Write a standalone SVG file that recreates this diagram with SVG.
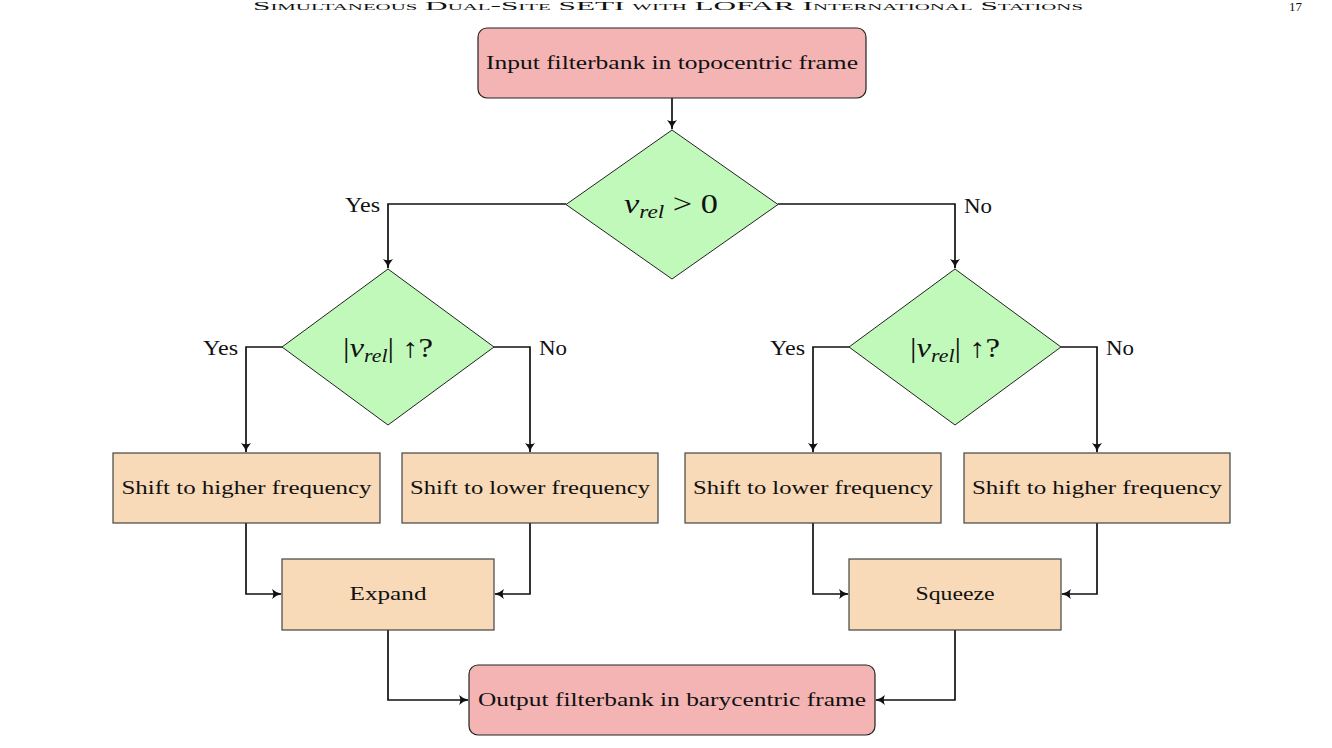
<svg xmlns="http://www.w3.org/2000/svg" width="1332" height="748" viewBox="0 0 1332 748">
<style>
text{font-family:"Liberation Serif","DejaVu Serif",serif;fill:#111}
.lbl{font-size:19px;text-anchor:middle}
.yn{font-size:20px}
.term{fill:#f4b4b4;stroke:#222;stroke-width:1.2}
.dec{fill:#c1f9bb;stroke:#222;stroke-width:1}
.proc{fill:#f8dab8;stroke:#444;stroke-width:1.2}
.math{font-style:italic}
.conn path{fill:none;stroke:#111;stroke-width:1.7}
</style>
<defs>
<marker id="arr" markerWidth="12" markerHeight="12" refX="9" refY="5" orient="auto" markerUnits="userSpaceOnUse">
<path d="M0,0 Q4,3.8 10,5 Q4,6.2 0,10 Q2.5,5 0,0 z" fill="#111"/>
</marker>
</defs>
<g id="header">
<text x="668" y="10" font-size="12" text-anchor="middle" font-variant="small-caps" textLength="830" lengthAdjust="spacingAndGlyphs">Simultaneous Dual-Site SETI with LOFAR International Stations</text>
<text x="1302" y="11" font-size="13" text-anchor="end">17</text>
</g>
<g class="conn">
<path d="M672,98 V129" marker-end="url(#arr)"/>
<path d="M566,204 H388 V268" marker-end="url(#arr)"/>
<path d="M778,204 H955 V268" marker-end="url(#arr)"/>
<path d="M282,347 H246 V452" marker-end="url(#arr)"/>
<path d="M494,347 H530 V452" marker-end="url(#arr)"/>
<path d="M849,347 H813 V452" marker-end="url(#arr)"/>
<path d="M1061,347 H1097 V452" marker-end="url(#arr)"/>
<path d="M246,523 V594 H281" marker-end="url(#arr)"/>
<path d="M530,523 V594 H495" marker-end="url(#arr)"/>
<path d="M813,523 V594 H848" marker-end="url(#arr)"/>
<path d="M1097,523 V594 H1062" marker-end="url(#arr)"/>
<path d="M388,630 V700 H468" marker-end="url(#arr)"/>
<path d="M955,630 V700 H876" marker-end="url(#arr)"/>
<text class="yn" x="345" y="212" textLength="35" lengthAdjust="spacingAndGlyphs">Yes</text>
<text class="yn" x="964" y="213" textLength="28" lengthAdjust="spacingAndGlyphs">No</text>
<text class="yn" x="203" y="355" textLength="35" lengthAdjust="spacingAndGlyphs">Yes</text>
<text class="yn" x="539" y="355" textLength="28" lengthAdjust="spacingAndGlyphs">No</text>
<text class="yn" x="770" y="355" textLength="35" lengthAdjust="spacingAndGlyphs">Yes</text>
<text class="yn" x="1106" y="355" textLength="28" lengthAdjust="spacingAndGlyphs">No</text>
</g>
<g id="input">
<rect class="term" x="478" y="28" width="388" height="70" rx="9"/>
<text class="lbl" x="672" y="69" textLength="372" lengthAdjust="spacingAndGlyphs">Input filterbank in topocentric frame</text>
</g>
<g id="dec1">
<polygon class="dec" points="672,130 778,204.5 672,279 566,204.5"/>
<text x="624" y="213" font-size="28" textLength="94" lengthAdjust="spacingAndGlyphs"><tspan class="math">v</tspan><tspan class="math" font-size="19" dy="5">rel</tspan><tspan dy="-5"> &gt; 0</tspan></text>
</g>
<g id="dec2L">
<polygon class="dec" points="388,269 494,347 388,425 282,347"/>
<text x="343" y="357" font-size="27" textLength="90" lengthAdjust="spacingAndGlyphs">|<tspan class="math">v</tspan><tspan class="math" font-size="18" dy="5">rel</tspan><tspan dy="-5">| ↑?</tspan></text>
</g>
<g id="dec2R">
<polygon class="dec" points="955,269 1061,347 955,425 849,347"/>
<text x="910" y="357" font-size="27" textLength="90" lengthAdjust="spacingAndGlyphs">|<tspan class="math">v</tspan><tspan class="math" font-size="18" dy="5">rel</tspan><tspan dy="-5">| ↑?</tspan></text>
</g>
<g id="shiftHigherL">
<rect class="proc" x="113" y="453" width="267" height="70"/>
<text class="lbl" x="246.5" y="494" textLength="250" lengthAdjust="spacingAndGlyphs">Shift to higher frequency</text>
</g>
<g id="shiftLowerL">
<rect class="proc" x="402" y="453" width="256" height="70"/>
<text class="lbl" x="530" y="494" textLength="240" lengthAdjust="spacingAndGlyphs">Shift to lower frequency</text>
</g>
<g id="shiftLowerR">
<rect class="proc" x="685" y="453" width="256" height="70"/>
<text class="lbl" x="813" y="494" textLength="240" lengthAdjust="spacingAndGlyphs">Shift to lower frequency</text>
</g>
<g id="shiftHigherR">
<rect class="proc" x="964" y="453" width="266" height="70"/>
<text class="lbl" x="1097" y="494" textLength="250" lengthAdjust="spacingAndGlyphs">Shift to higher frequency</text>
</g>
<g id="expand">
<rect class="proc" x="282" y="559" width="212" height="71"/>
<text class="lbl" x="388" y="600" textLength="77" lengthAdjust="spacingAndGlyphs">Expand</text>
</g>
<g id="squeeze">
<rect class="proc" x="849" y="559" width="212" height="71"/>
<text class="lbl" x="955" y="600" textLength="79" lengthAdjust="spacingAndGlyphs">Squeeze</text>
</g>
<g id="output">
<rect class="term" x="469" y="665" width="406" height="70" rx="9"/>
<text class="lbl" x="672" y="706" textLength="388" lengthAdjust="spacingAndGlyphs">Output filterbank in barycentric frame</text>
</g>
</svg>
